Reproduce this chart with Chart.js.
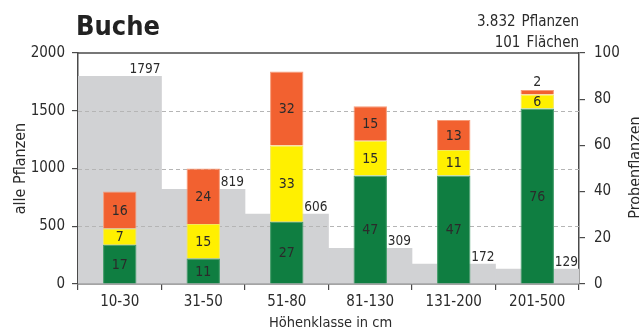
<!DOCTYPE html>
<html><head><meta charset="utf-8">
<script src="https://cdn.jsdelivr.net/npm/chart.js@4"></script>
<style>html,body{margin:0;padding:0;background:#fff;}#wrap{width:639px;height:331px;position:relative;}</style>
</head><body><div id="wrap"><canvas id="c" width="639" height="331"></canvas></div>
<script>
const categories = ['10-30', '31-50', '51-80', '81-130', '131-200', '201-500'];
const allePflanzen = [1797, 819, 606, 309, 172, 129];
const gruen = [17, 11, 27, 47, 47, 76];
const gelb = [7, 15, 33, 15, 11, 6];
const rot = [16, 24, 32, 15, 13, 2];
const leftTicks = [0, 500, 1000, 1500, 2000];
const rightTicks = [0, 20, 40, 60, 80, 100];
const titleText = 'Buche';
const infoNumbers = ['3.832', '101'];
const infoWords = ['Pflanzen', 'Flächen'];
const xTitle = 'Höhenklasse in cm';
const yTitleLeft = 'alle Pflanzen';
const yTitleRight = 'Probenflanzen';

const FONT = '"DejaVu Sans Condensed", "Liberation Sans Narrow", sans-serif';
const AXIS = '#4a4a4a';
const TXT = '#2b2b2b';

const overlay = {
  id: 'overlay',
  afterDatasetDraw(chart, args) {
    if (args.index !== 0) return;
    const ctx = chart.ctx, a = chart.chartArea, y = chart.scales.y;
    ctx.save();
    ctx.strokeStyle = '#b5b5b5'; ctx.lineWidth = 1; ctx.setLineDash([4, 3]);
    leftTicks.forEach(v => {
      if (v <= y.min || v >= y.max) return;
      const py = Math.round(y.getPixelForValue(v)) + 0.5;
      ctx.beginPath(); ctx.moveTo(a.left, py); ctx.lineTo(a.right, py); ctx.stroke();
    });
    ctx.restore();
  },
  afterDraw(chart) {
    const ctx = chart.ctx, a = chart.chartArea;
    ctx.save();
    ctx.strokeStyle = AXIS; ctx.lineWidth = 1.5;
    ctx.beginPath(); ctx.moveTo(a.left, a.top); ctx.lineTo(a.right, a.top); ctx.stroke();
    ctx.fillStyle = TXT;
    ctx.font = '13.5px ' + FONT;
    ctx.textAlign = 'right'; ctx.textBaseline = 'alphabetic';
    const m0 = chart.getDatasetMeta(0);
    m0.data.forEach((el, i) => {
      ctx.fillText(String(allePflanzen[i]), el.x + el.width / 2 - 1, el.y - 3);
    });
    ctx.textAlign = 'center';
    ctx.font = '14px ' + FONT;
    const vals = [gruen, gelb, rot];
    for (let i = 0; i < categories.length; i++) {
      let topY = Infinity;
      for (let d = 1; d <= 3; d++) topY = Math.min(topY, chart.getDatasetMeta(d).data[i].y);
      for (let d = 1; d <= 3; d++) {
        const el = chart.getDatasetMeta(d).data[i];
        const h = el.base - el.y;
        const v = vals[d - 1][i];
        if (h >= 12) {
          ctx.textBaseline = 'middle';
          ctx.fillText(String(v), el.x, (el.y + el.base) / 2 + 1);
        } else {
          ctx.textBaseline = 'alphabetic';
          ctx.fillText(String(v), el.x, topY - 4);
        }
      }
    }
    ctx.textBaseline = 'alphabetic';
    ctx.textAlign = 'left';
    ctx.fillStyle = '#222';
    ctx.font = 'bold 27px ' + FONT;
    ctx.fillText(titleText, 76, 35);
    ctx.fillStyle = TXT;
    ctx.font = '15px ' + FONT;
    const baselines = [26, 47];
    infoWords.forEach((w, i) => {
      ctx.textAlign = 'right';
      ctx.fillText(w, a.right, baselines[i]);
      const ww = ctx.measureText(w).width;
      ctx.fillText(infoNumbers[i], a.right - ww - 6, baselines[i]);
    });
    ctx.font = '14.5px ' + FONT;
    ctx.textAlign = 'center';
    ctx.fillText(xTitle, (a.left + a.right) / 2 + 2, 327);
    ctx.font = '16px ' + FONT;
    ctx.save();
    ctx.translate(25, (a.top + a.bottom) / 2);
    ctx.rotate(-Math.PI / 2);
    ctx.fillText(yTitleLeft, 0, 0);
    ctx.restore();
    ctx.save();
    ctx.translate(640, (a.top + a.bottom) / 2 - 1);
    ctx.rotate(-Math.PI / 2);
    ctx.fillText(yTitleRight, 0, 0);
    ctx.restore();
    ctx.restore();
  }
};

const tickFont = { family: FONT, size: 15 };
const plain = v => String(v);

new Chart(document.getElementById('c'), {
  type: 'bar',
  data: {
    labels: categories,
    datasets: [
      { label: 'alle Pflanzen', data: allePflanzen, yAxisID: 'y', backgroundColor: '#d1d2d4',
        barPercentage: 1, categoryPercentage: 1, order: 2, borderWidth: 0 },
      { label: 'grün', data: gruen, yAxisID: 'y2', backgroundColor: '#0f7e41', borderColor: '#3f9a66',
        borderWidth: 1, barPercentage: 0.4, categoryPercentage: 1, order: 1 },
      { label: 'gelb', data: gelb, yAxisID: 'y2', backgroundColor: '#fff000', borderColor: '#f3e95a',
        borderWidth: 1, barPercentage: 0.4, categoryPercentage: 1, order: 1 },
      { label: 'rot', data: rot, yAxisID: 'y2', backgroundColor: '#f26130', borderColor: '#f79b78',
        borderWidth: 1, barPercentage: 0.4, categoryPercentage: 1, order: 1 }
    ]
  },
  options: {
    responsive: false,
    devicePixelRatio: 1,
    animation: false,
    layout: { padding: { top: 53, left: 0, right: 0, bottom: 0 } },
    plugins: { legend: { display: false }, tooltip: { enabled: false }, title: { display: false } },
    scales: {
      x: {
        stacked: true,
        z: 1,
        grid: { offset: true, drawOnChartArea: false, drawTicks: true, tickLength: 6, color: AXIS, lineWidth: 1.2 },
        border: { display: true, color: AXIS, width: 1.5 },
        ticks: { font: tickFont, color: TXT, padding: 3 },
        afterFit(s) { s.height = 47; }
      },
      y: {
        position: 'left',
        stacked: false,
        min: 0, max: 2000,
        z: 1,
        afterBuildTicks(s) { s.ticks = leftTicks.map(v => ({ value: v })); },
        grid: { drawOnChartArea: false, drawTicks: true, tickLength: 6, color: AXIS, lineWidth: 1.2 },
        border: { display: true, color: AXIS, width: 1.5 },
        ticks: { font: tickFont, color: TXT, padding: 7, callback: plain },
        afterFit(s) { s.width = 78; }
      },
      y2: {
        position: 'right',
        stacked: true,
        min: 0, max: 100,
        z: 1,
        afterBuildTicks(s) { s.ticks = rightTicks.map(v => ({ value: v })); },
        grid: { drawOnChartArea: false, drawTicks: true, tickLength: 6, color: AXIS, lineWidth: 1.2 },
        border: { display: true, color: AXIS, width: 1.5 },
        ticks: { font: tickFont, color: TXT, padding: 9, callback: plain },
        afterFit(s) { s.width = 60; }
      }
    }
  },
  plugins: [overlay]
});
</script>
</body></html>
